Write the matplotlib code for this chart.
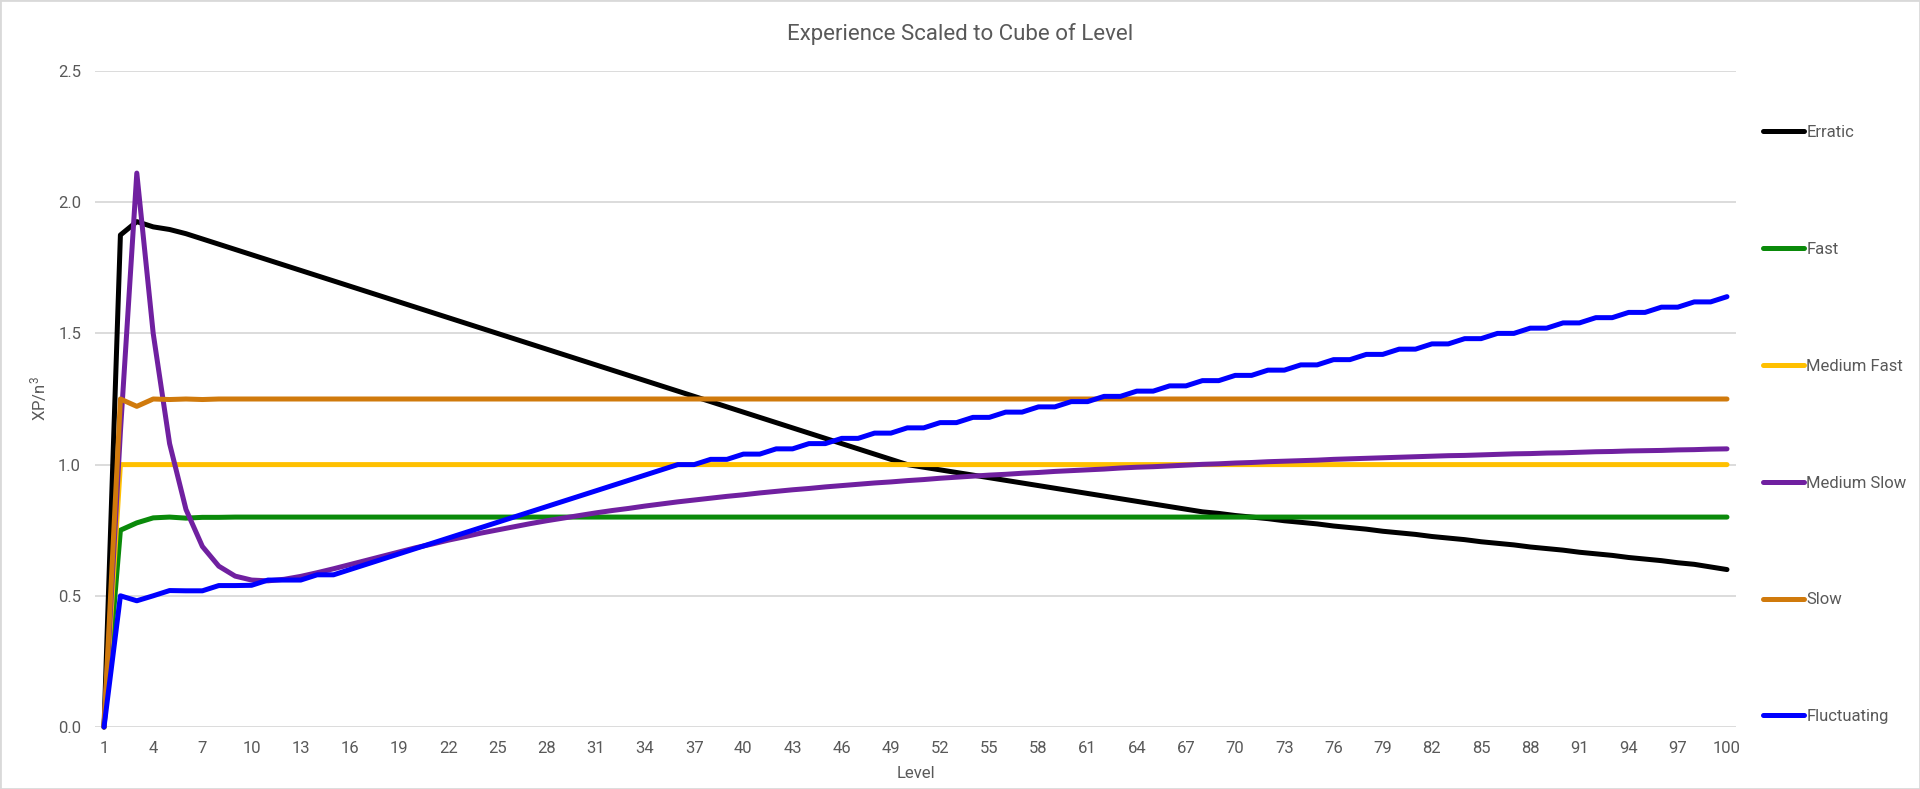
#!/usr/bin/env python3
# -*- coding: utf-8 -*-

import matplotlib
matplotlib.use('Agg')
import matplotlib.pyplot as plt
from matplotlib.patches import Rectangle

plt.rcParams['font.family'] = ['Roboto', 'DejaVu Sans']
plt.rcParams['mathtext.fontset'] = 'custom'
plt.rcParams['mathtext.rm'] = 'Roboto'
plt.rcParams['mathtext.it'] = 'Roboto'

levels = list(range(1, 101))

erratic = [
    0.0, 1.875, 1.926, 1.906, 1.896, 1.880, 1.86, 1.84, 1.82, 1.80,
    1.78, 1.76, 1.74, 1.72, 1.70, 1.68, 1.66, 1.64, 1.62, 1.60,
    1.58, 1.56, 1.54, 1.52, 1.50, 1.48, 1.46, 1.44, 1.42, 1.40,
    1.38, 1.36, 1.34, 1.32, 1.30, 1.28, 1.26, 1.24, 1.22, 1.20,
    1.18, 1.16, 1.14, 1.12, 1.10, 1.08, 1.06, 1.04, 1.02, 1.00,
    0.99, 0.98, 0.97, 0.96, 0.95, 0.94, 0.93, 0.92, 0.91, 0.90,
    0.89, 0.88, 0.87, 0.86, 0.85, 0.84, 0.83, 0.82, 0.814, 0.806,
    0.80, 0.794, 0.786, 0.78, 0.774, 0.766, 0.76, 0.754, 0.746, 0.74,
    0.734, 0.726, 0.72, 0.714, 0.706, 0.70, 0.694, 0.686, 0.68, 0.674,
    0.666, 0.66, 0.654, 0.646, 0.64, 0.634, 0.626, 0.62, 0.61, 0.60,
]

fast = [
    0.0, 0.75, 0.778, 0.797, 0.8, 0.796, 0.799, 0.799, 0.8, 0.8,
    0.8, 0.8, 0.8, 0.8, 0.8, 0.8, 0.8, 0.8, 0.8, 0.8,
    0.8, 0.8, 0.8, 0.8, 0.8, 0.8, 0.8, 0.8, 0.8, 0.8,
    0.8, 0.8, 0.8, 0.8, 0.8, 0.8, 0.8, 0.8, 0.8, 0.8,
    0.8, 0.8, 0.8, 0.8, 0.8, 0.8, 0.8, 0.8, 0.8, 0.8,
    0.8, 0.8, 0.8, 0.8, 0.8, 0.8, 0.8, 0.8, 0.8, 0.8,
    0.8, 0.8, 0.8, 0.8, 0.8, 0.8, 0.8, 0.8, 0.8, 0.8,
    0.8, 0.8, 0.8, 0.8, 0.8, 0.8, 0.8, 0.8, 0.8, 0.8,
    0.8, 0.8, 0.8, 0.8, 0.8, 0.8, 0.8, 0.8, 0.8, 0.8,
    0.8, 0.8, 0.8, 0.8, 0.8, 0.8, 0.8, 0.8, 0.8, 0.8,
]

medium_fast = [
    0.0, 1.0, 1.0, 1.0, 1.0, 1.0, 1.0, 1.0, 1.0, 1.0,
    1.0, 1.0, 1.0, 1.0, 1.0, 1.0, 1.0, 1.0, 1.0, 1.0,
    1.0, 1.0, 1.0, 1.0, 1.0, 1.0, 1.0, 1.0, 1.0, 1.0,
    1.0, 1.0, 1.0, 1.0, 1.0, 1.0, 1.0, 1.0, 1.0, 1.0,
    1.0, 1.0, 1.0, 1.0, 1.0, 1.0, 1.0, 1.0, 1.0, 1.0,
    1.0, 1.0, 1.0, 1.0, 1.0, 1.0, 1.0, 1.0, 1.0, 1.0,
    1.0, 1.0, 1.0, 1.0, 1.0, 1.0, 1.0, 1.0, 1.0, 1.0,
    1.0, 1.0, 1.0, 1.0, 1.0, 1.0, 1.0, 1.0, 1.0, 1.0,
    1.0, 1.0, 1.0, 1.0, 1.0, 1.0, 1.0, 1.0, 1.0, 1.0,
    1.0, 1.0, 1.0, 1.0, 1.0, 1.0, 1.0, 1.0, 1.0, 1.0,
]

medium_slow = [
    0.0, 1.125, 2.111, 1.5, 1.08, 0.829, 0.688, 0.613, 0.575, 0.56,
    0.557, 0.563, 0.574, 0.588, 0.603, 0.619, 0.635, 0.651, 0.667, 0.683,
    0.697, 0.712, 0.725, 0.739, 0.751, 0.763, 0.775, 0.786, 0.796, 0.806,
    0.816, 0.825, 0.833, 0.842, 0.850, 0.858, 0.865, 0.872, 0.879, 0.885,
    0.892, 0.898, 0.904, 0.909, 0.915, 0.920, 0.925, 0.930, 0.934, 0.939,
    0.943, 0.948, 0.952, 0.956, 0.960, 0.963, 0.967, 0.970, 0.974, 0.977,
    0.980, 0.983, 0.987, 0.990, 0.992, 0.995, 0.998, 1.001, 1.003, 1.006,
    1.008, 1.011, 1.013, 1.015, 1.017, 1.020, 1.022, 1.024, 1.026, 1.028,
    1.030, 1.032, 1.034, 1.035, 1.037, 1.039, 1.041, 1.042, 1.044, 1.045,
    1.047, 1.049, 1.050, 1.052, 1.053, 1.054, 1.056, 1.057, 1.059, 1.060,
]

slow = [
    0.0, 1.25, 1.222, 1.25, 1.248, 1.25, 1.248, 1.25, 1.25, 1.25,
    1.25, 1.25, 1.25, 1.25, 1.25, 1.25, 1.25, 1.25, 1.25, 1.25,
    1.25, 1.25, 1.25, 1.25, 1.25, 1.25, 1.25, 1.25, 1.25, 1.25,
    1.25, 1.25, 1.25, 1.25, 1.25, 1.25, 1.25, 1.25, 1.25, 1.25,
    1.25, 1.25, 1.25, 1.25, 1.25, 1.25, 1.25, 1.25, 1.25, 1.25,
    1.25, 1.25, 1.25, 1.25, 1.25, 1.25, 1.25, 1.25, 1.25, 1.25,
    1.25, 1.25, 1.25, 1.25, 1.25, 1.25, 1.25, 1.25, 1.25, 1.25,
    1.25, 1.25, 1.25, 1.25, 1.25, 1.25, 1.25, 1.25, 1.25, 1.25,
    1.25, 1.25, 1.25, 1.25, 1.25, 1.25, 1.25, 1.25, 1.25, 1.25,
    1.25, 1.25, 1.25, 1.25, 1.25, 1.25, 1.25, 1.25, 1.25, 1.25,
]

fluctuating = [
    0.0, 0.5, 0.481, 0.5, 0.52, 0.519, 0.519, 0.539, 0.539, 0.54,
    0.56, 0.56, 0.56, 0.58, 0.58, 0.60, 0.62, 0.64, 0.66, 0.68,
    0.70, 0.72, 0.74, 0.76, 0.78, 0.80, 0.82, 0.84, 0.86, 0.88,
    0.90, 0.92, 0.94, 0.96, 0.98, 1.00, 1.00, 1.02, 1.02, 1.04,
    1.04, 1.06, 1.06, 1.08, 1.08, 1.10, 1.10, 1.12, 1.12, 1.14,
    1.14, 1.16, 1.16, 1.18, 1.18, 1.20, 1.20, 1.22, 1.22, 1.24,
    1.24, 1.26, 1.26, 1.28, 1.28, 1.30, 1.30, 1.32, 1.32, 1.34,
    1.34, 1.36, 1.36, 1.38, 1.38, 1.40, 1.40, 1.42, 1.42, 1.44,
    1.44, 1.46, 1.46, 1.48, 1.48, 1.50, 1.50, 1.52, 1.52, 1.54,
    1.54, 1.56, 1.56, 1.58, 1.58, 1.60, 1.60, 1.62, 1.62, 1.64,
]

series = [
    ('Erratic',      erratic,     '#000000'),
    ('Fast',         fast,        '#0A8A0A'),
    ('Medium Fast',  medium_fast, '#FFC000'),
    ('Medium Slow',  medium_slow, '#7020A0'),
    ('Slow',         slow,        '#D07A0C'),
    ('Fluctuating',  fluctuating, '#0000FF'),
]

x_ticks = list(range(1, 101, 3))
y_ticks = [0.0, 0.5, 1.0, 1.5, 2.0, 2.5]

TEXT = '#595959'
GRID = '#D9D9D9'


def main():
    W, H = 1920, 789
    fig = plt.figure(figsize=(W / 100, H / 100), dpi=100)
    ax = fig.add_axes([95 / W, 1 - 727 / H, (1736 - 95) / W, (727 - 71) / H])

    for name, vals, color in series:
        ax.plot(levels, vals, color=color, lw=3.6, label=name,
                solid_joinstyle='round', solid_capstyle='round', clip_on=False)

    ax.set_xlim(0.45, 100.55)
    ax.set_ylim(0, 2.5)
    ax.set_xticks(x_ticks)
    ax.set_xticklabels([str(t) for t in x_ticks])
    ax.set_yticks(y_ticks)
    ax.set_yticklabels(['%.1f' % t for t in y_ticks])
    ax.tick_params(length=0, labelsize=12, labelcolor=TEXT, pad=10)
    ax.grid(axis='y', color=GRID, lw=1.3)
    ax.set_axisbelow(True)
    for sp in ax.spines.values():
        sp.set_visible(False)

    fig.text(0.5, 1 - 34 / H, 'Experience Scaled to Cube of Level',
             ha='center', va='center', fontsize=16, color=TEXT)
    fig.text(916 / W, 1 - 774 / H, 'Level', ha='center', va='center',
             fontsize=12, color=TEXT)
    fig.text(39 / W, 1 - 399 / H, 'XP/n$^3$', ha='center', va='center',
             rotation=90, fontsize=12, color=TEXT)

    ax.legend(loc='upper left', bbox_to_anchor=(1763 / W, 1 - 125 / H),
              bbox_transform=fig.transFigure, frameon=False, fontsize=12,
              labelcolor=TEXT, labelspacing=6.11, handlelength=2.45,
              handletextpad=0.15, borderpad=0, borderaxespad=0)

    fig.patches.append(Rectangle((0, 0), 1, 1, transform=fig.transFigure,
                                 fill=False, edgecolor=GRID, lw=2))

    fig.savefig('out.png', dpi=100)


if __name__ == '__main__':
    main()
